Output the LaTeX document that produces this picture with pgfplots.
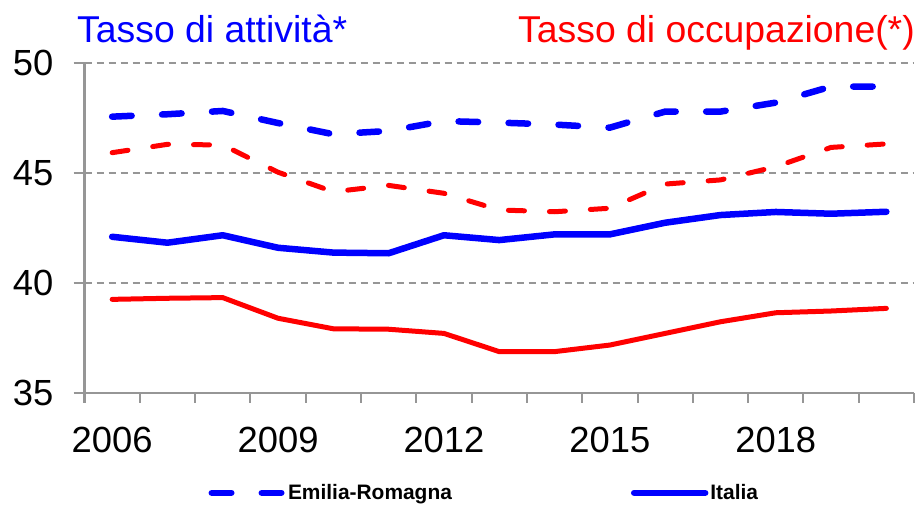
\documentclass[border=0pt]{standalone}
\usepackage{fontspec}
\setmainfont{Liberation Sans}
\usepackage{pgfplots}
\pgfplotsset{compat=1.18}
\definecolor{gridgray}{RGB}{150,150,150}
\definecolor{xblue}{RGB}{0,0,255}
\definecolor{xred}{RGB}{255,0,0}
\pgfplotstableread{
year ERatt ITatt ERocc ITocc
2006 47.57 42.10 45.93 39.25
2007 47.68 41.83 46.31 39.30
2008 47.83 42.17 46.28 39.33
2009 47.28 41.60 45.04 38.39
2010 46.77 41.38 44.15 37.91
2011 46.92 41.35 44.44 37.89
2012 47.37 42.17 44.08 37.70
2013 47.30 41.95 43.32 36.87
2014 47.21 42.21 43.24 36.87
2015 47.07 42.21 43.40 37.17
2016 47.80 42.74 44.50 37.70
2017 47.80 43.09 44.69 38.23
2018 48.21 43.23 45.29 38.64
2019 48.94 43.15 46.17 38.72
2020 48.94 43.24 46.33 38.84
}\data
\begin{document}
\begin{tikzpicture}
\begin{axis}[
  at={(0,0)}, anchor=south west,
  scale only axis, width=829.5bp, height=329.4bp,
  xmin=2005.5, xmax=2020.5, ymin=35, ymax=50,
  axis lines*=left,
  axis line style={gridgray, line width=2bp},
  xtick={2006,2009,2012,2015,2018},
  xticklabels={2006,2009,2012,2015,2018},
  minor xtick={2005.5,2006.5,2007.5,2008.5,2009.5,2010.5,2011.5,2012.5,2013.5,2014.5,2015.5,2016.5,2017.5,2018.5,2019.5,2020.5},
  major x tick style={draw=none},
  ytick={35,40,45,50},
  yticklabels={35,40,45,50},
  tick align=outside,
  major tick length=11bp,
  minor tick length=10bp,
  tick style={gridgray, line width=2bp},
  ymajorgrids,
  grid style={gridgray, line width=2bp, dash pattern=on 7bp off 5bp},
  ticklabel style={font=\fontsize{36.5}{36.5}\selectfont},
  xticklabel style={inner sep=0pt, anchor=north, yshift=-23bp},
  yticklabel style={inner sep=0pt, anchor=east, xshift=-20bp},
  legend columns=2,
  legend style={at={(0.482,-0.304)}, anchor=center, draw=none, fill=none,
    font=\bfseries\fontsize{21}{21}\selectfont,
    /tikz/every even column/.append style={column sep=177bp}},
  legend image code/.code={\draw[#1] (0bp,0bp) -- (71bp,0bp);},
]
\addplot[xblue, line width=6.5bp, line cap=round, dash pattern=on 19.5bp off 30.5bp] table[x=year,y=ERatt] {\data};
\addlegendentry{Emilia-Romagna}
\addplot[xblue, line width=6.5bp, line cap=round, line join=round] table[x=year,y=ITatt] {\data};
\addlegendentry{Italia}
\addplot[xred, line width=5bp, line cap=round, dash pattern=on 16bp off 25bp, forget plot] table[x=year,y=ERocc] {\data};
\addplot[xred, line width=5bp, line cap=round, line join=round, forget plot] table[x=year,y=ITocc] {\data};
\end{axis}
\node[anchor=base west, inner sep=0pt, text=xblue, font=\fontsize{37.5}{37.5}\selectfont] at (-7.5bp,349.7bp) {Tasso di attività*};
\node[anchor=base east, inner sep=0pt, text=xred, font=\fontsize{37.5}{37.5}\selectfont] at (830.5bp,349.7bp) {Tasso di occupazione(*)};
\pgfresetboundingbox
\path[use as bounding box] (-84.5bp,-113.3bp) rectangle (835.5bp,392.7bp);
\end{tikzpicture}
\end{document}
